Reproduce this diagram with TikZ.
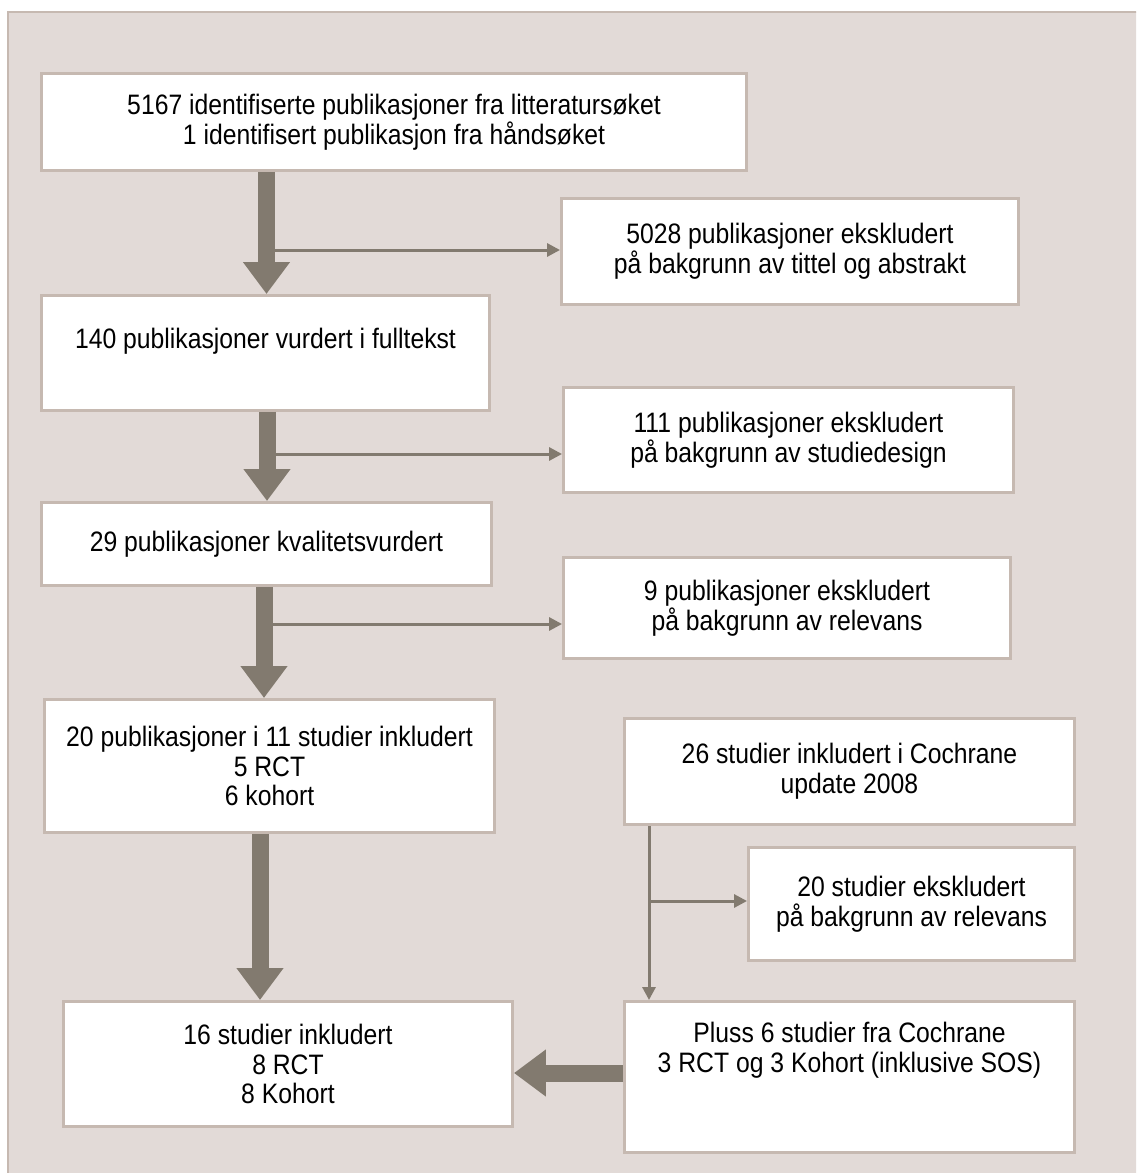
\documentclass[tikz,border=0pt]{standalone}
\usepackage{fontspec}
\setmainfont{Liberation Sans}[FakeStretch=0.88]
\usepackage{tikz}
\usetikzlibrary{arrows.meta, positioning}

\definecolor{panel}{HTML}{E2DAD7}
\definecolor{frame}{HTML}{C6B9B1}
\definecolor{flow}{HTML}{827A6F}

\begin{document}
\begin{tikzpicture}[
    x=0.02cm, y=-0.02cm,
    box/.style={
        rectangle,
        align=center,
        draw=frame,
        fill=white,
        line width=0.06cm,
        font=\fontsize{16pt}{17pt}\selectfont
    },
    bigarrow/.style={
        draw=flow,
        line width=0.34cm,
        -{Triangle[width=0.9cm, length=0.64cm]}
    },
    thinarrow/.style={
        draw=flow,
        line width=0.06cm,
        -{Triangle[width=0.26cm, length=0.26cm]}
    }
]

% Panel
\useasboundingbox (0,0) rectangle (1136,1173);
\clip (0,0) rectangle (1136,1173);
\draw[draw=frame, fill=panel, line width=0.04cm] (8,12) rectangle (1150,1190);

% Main column
\node[box, minimum width=14.1cm, minimum height=1.94cm] (found)    at (394,122)   {5167 identifiserte publikasjoner fra litteratursøket\\1 identifisert publikasjon fra håndsøket};
\node[box, minimum width=8.96cm, minimum height=2.3cm]  (fulltext) at (265.5,353) {140 publikasjoner vurdert i fulltekst\\~};
\node[box, minimum width=9cm,    minimum height=1.66cm] (quality)  at (266.5,544) {29 publikasjoner kvalitetsvurdert};
\node[box, minimum width=9cm,    minimum height=2.66cm] (included) at (269.5,766) {20 publikasjoner i 11 studier inkludert\\5 RCT\\6 kohort};
\node[box, minimum width=8.98cm, minimum height=2.5cm]  (final)    at (288,1064)  {16 studier inkludert\\8 RCT\\8 Kohort};

% Exclusions
\node[box, minimum width=9.14cm, minimum height=2.12cm] (excl1) at (790,251.5) {5028 publikasjoner ekskludert\\på bakgrunn av tittel og abstrakt};
\node[box, minimum width=9cm,    minimum height=2.1cm]  (excl2) at (788.5,440) {111 publikasjoner ekskludert\\på bakgrunn av studiedesign};
\node[box, minimum width=8.94cm, minimum height=2.02cm] (excl3) at (787,608)   {9 publikasjoner ekskludert\\på bakgrunn av relevans};

% Cochrane
\node[box, minimum width=9cm,    minimum height=2.12cm] (cochrane) at (849.5,771.5) {26 studier inkludert i Cochrane\\update 2008};
\node[box, minimum width=6.52cm, minimum height=2.26cm] (excl4)    at (911.5,904)   {20 studier ekskludert\\på bakgrunn av relevans};
\node[box, minimum width=9cm,    minimum height=3.02cm] (extra)    at (849.5,1077)  {Pluss 6 studier fra Cochrane\\3 RCT og 3 Kohort (inklusive SOS)\\~\\~};

% Split points
\coordinate (split1) at (266.5,250);
\coordinate (split2) at (267,454);
\coordinate (split3) at (264,624);
\coordinate (split4) at (649,901);
\coordinate (col4)   at (260,0);
\coordinate (join)   at (600,1073);

% Thin arrows
\draw[thinarrow] (split1) -- (split1 -| excl1.west);
\draw[thinarrow] (split2) -- (split2 -| excl2.west);
\draw[thinarrow] (split3) -- (split3 -| excl3.west);
\draw[thinarrow] (cochrane.south -| split4) -- (extra.north -| split4);
\draw[thinarrow] (split4) -- (split4 -| excl4.west);

% Big arrows
\draw[bigarrow] (found.south -| split1)    -- (fulltext.north -| split1);
\draw[bigarrow] (fulltext.south -| split2) -- (quality.north -| split2);
\draw[bigarrow] (quality.south -| split3)  -- (included.north -| split3);
\draw[bigarrow] (included.south -| col4)   -- (final.north -| col4);
\draw[bigarrow] (extra.west |- join)       -- (final.east |- join);

\end{tikzpicture}
\end{document}
